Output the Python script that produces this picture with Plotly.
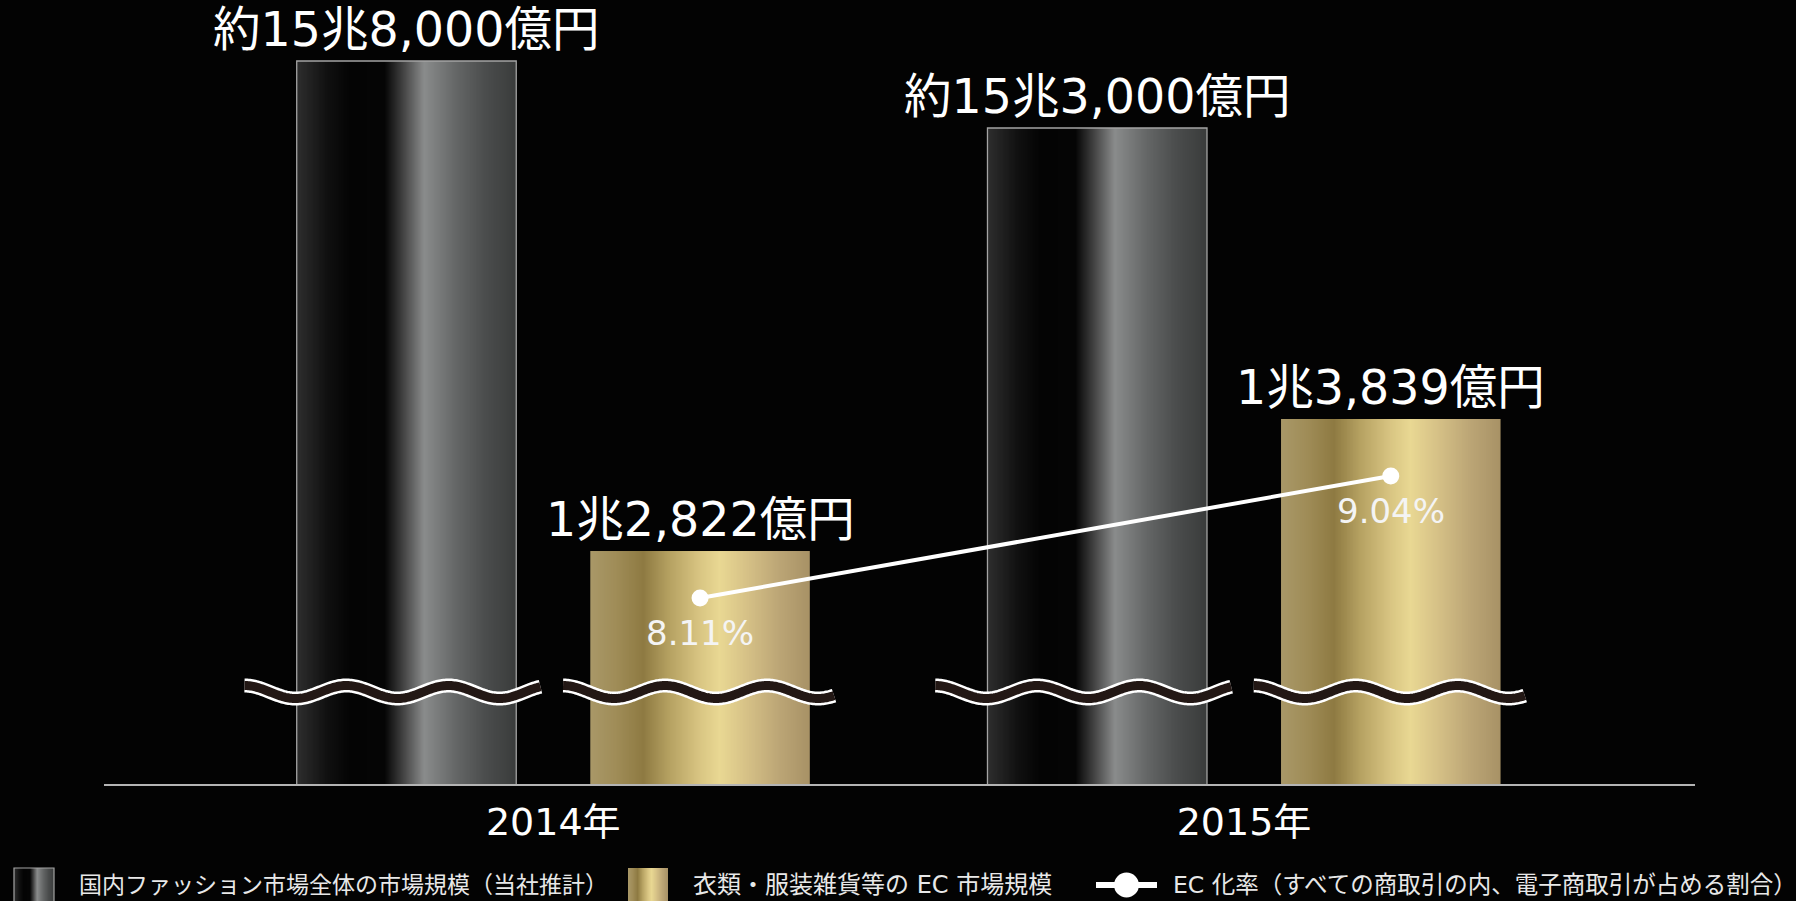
import base64
import struct
import zlib

import numpy as np
import plotly.graph_objects as go

# ---- data -------------------------------------------------------------
years = ["2014年", "2015年"]
market_total = [158000, 153000]   # 国内ファッション市場全体（億円, 当社推計）
ec_market = [12822, 13839]        # 衣類・服装雑貨等の EC 市場（億円）
ec_rate = [8.11, 9.04]            # EC 化率（%）

legend_names = [
    "国内ファッション市場全体の市場規模（当社推計）",
    "衣類・服装雑貨等の EC 市場規模",
    "EC 化率（すべての商取引の内、電子商取引が占める割合）",
]


def oku_label(v, prefix=""):
    cho, oku = divmod(v, 10000)
    return f"{prefix}{cho}兆{oku:,}億円"


# ---- geometry ---------------------------------------------------------
W, H = 1796, 901
ML, MR, MT, MB = 104, 101, 0, 117
PLOT_W = W - ML - MR
PLOT_H = H - MT - MB

X_RANGE = [-0.6504, 1.6529]
PX_PER_X = PLOT_W / (X_RANGE[1] - X_RANGE[0])
BAR_W = 0.3178
SHIFT = 0.2125          # distance of each bar centre from its year centre

# broken axes: each series starts from its own baseline value
TOTAL_RANGE = [104045, 162552]
EC_RANGE = [11027, 17067]
RATE_RANGE = [6.692, 12.669]
PIX_RANGE = [0, PLOT_H]   # pixel units above the baseline (break marks)

FONT = "DejaVu Sans, Noto Sans CJK JP"
BG = "#030303"


def hex_rgb(h):
    h = h.lstrip("#")
    return [int(h[i:i + 2], 16) for i in (0, 2, 4)]


def gradient_png(stops, n=256):
    pos = np.linspace(0, 1, n)
    sp = [s[0] for s in stops]
    cols = np.array([hex_rgb(s[1]) for s in stops], dtype=float)
    rgb = np.stack([np.interp(pos, sp, cols[:, k]) for k in range(3)], axis=1)
    row = b"\x00" + rgb.round().astype(np.uint8).tobytes()
    raw = row * 2

    def chunk(tag, data):
        return (struct.pack(">I", len(data)) + tag + data
                + struct.pack(">I", zlib.crc32(tag + data) & 0xFFFFFFFF))

    png = (b"\x89PNG\r\n\x1a\n"
           + chunk(b"IHDR", struct.pack(">IIBBBBB", n, 2, 8, 2, 0, 0, 0))
           + chunk(b"IDAT", zlib.compress(raw))
           + chunk(b"IEND", b""))
    return "data:image/png;base64," + base64.b64encode(png).decode()


GRAY_STOPS = [(0, "#2e2e2e"), (0.14, "#101010"), (0.24, "#040404"),
              (0.40, "#050505"), (0.47, "#383838"), (0.58, "#8a8c8c"),
              (0.72, "#666868"), (0.86, "#4b4d4d"), (1, "#3a3c3b")]
GOLD_STOPS = [(0, "#a99868"), (0.12, "#9f8c57"), (0.24, "#8e7a42"),
              (0.36, "#b6a262"), (0.50, "#d9c683"), (0.59, "#e9d893"),
              (0.72, "#d5c086"), (0.86, "#bca676"), (1, "#a89266")]
GRAY_IMG = gradient_png(GRAY_STOPS)
GOLD_IMG = gradient_png(GOLD_STOPS)

fig = go.Figure()

# ---- bars (fill comes from the gradient images underneath) ------------
# each series sits on its own stacked subplot sharing the same x range
fig.add_trace(go.Bar(
    x=[0, 1], y=market_total, xaxis="x", yaxis="y", width=BAR_W,
    offset=-SHIFT - BAR_W / 2,
    marker=dict(color="rgba(0,0,0,0)", line=dict(color="#a4a4a4", width=1.3)),
    name=legend_names[0], showlegend=False, hoverinfo="skip",
))
fig.add_trace(go.Bar(
    x=[0, 1], y=ec_market, xaxis="x2", yaxis="y2", width=BAR_W,
    offset=SHIFT - BAR_W / 2,
    marker=dict(color="rgba(0,0,0,0)", line=dict(width=0)),
    name=legend_names[1], showlegend=False, hoverinfo="skip",
))

images = []
for i in range(len(years)):
    images.append(dict(
        source=GRAY_IMG, xref="x", yref="y",
        x=i - SHIFT - BAR_W / 2, y=market_total[i],
        sizex=BAR_W, sizey=market_total[i] - TOTAL_RANGE[0],
        xanchor="left", yanchor="top", sizing="stretch", layer="below"))
    images.append(dict(
        source=GOLD_IMG, xref="x2", yref="y2",
        x=i + SHIFT - BAR_W / 2, y=ec_market[i],
        sizex=BAR_W, sizey=ec_market[i] - EC_RANGE[0],
        xanchor="left", yanchor="top", sizing="stretch", layer="below"))

# ---- EC ratio line ----------------------------------------------------
fig.add_trace(go.Scatter(
    x=[i + SHIFT for i in range(len(years))], y=ec_rate,
    xaxis="x3", yaxis="y3", mode="lines+markers",
    line=dict(color="#ffffff", width=4),
    marker=dict(color="#ffffff", size=17),
    name=legend_names[2], showlegend=False, hoverinfo="skip",
    cliponaxis=False,
))

# ---- wavy axis-break marks across every bar ---------------------------
WAVE_Y = 92          # px above baseline
WAVE_AMP = 6.5
WAVE_PERIOD = 102    # px
wave_spans = {"total": (-162, 134), "ec": (-137, 134)}
for i in range(len(years)):
    for centre, key in ((i - SHIFT, "total"), (i + SHIFT, "ec")):
        a, b = wave_spans[key]
        px = np.linspace(a, b, 240)
        wx = centre + px / PX_PER_X
        wy = WAVE_Y + WAVE_AMP * np.cos(2 * np.pi * (px - a) / WAVE_PERIOD)
        for color, lw in (("#ffffff", 14), ("#231815", 9)):
            fig.add_trace(go.Scatter(
                x=wx, y=wy, xaxis="x4", yaxis="y4", mode="lines",
                line=dict(color=color, width=lw, simplify=False),
                showlegend=False, hoverinfo="skip", cliponaxis=False))

# ---- value labels -----------------------------------------------------
annotations = []
for i in range(len(years)):
    annotations.append(dict(
        x=i - SHIFT, y=market_total[i], xref="x", yref="y",
        text=oku_label(market_total[i], "約"), showarrow=False,
        xanchor="center", yanchor="bottom", yshift=2,
        font=dict(family=FONT, size=47.5, color="#ffffff")))
    annotations.append(dict(
        x=i + SHIFT, y=ec_market[i], xref="x2", yref="y2",
        text=oku_label(ec_market[i]), showarrow=False,
        xanchor="center", yanchor="bottom", yshift=2,
        font=dict(family=FONT, size=47.5, color="#ffffff")))
    annotations.append(dict(
        x=i + SHIFT, y=ec_rate[i], xref="x3", yref="y3",
        text=f"{ec_rate[i]:.2f}%", showarrow=False,
        xanchor="center", yanchor="top", yshift=-13,
        font=dict(family=FONT, size=34, color="#f4f4f4")))


# ---- legend (drawn in paper space below the axis) ---------------------
def px_x(p):
    return (p - ML) / PLOT_W


def px_y(p):
    return (MT + PLOT_H - p) / PLOT_H


LEG_Y = 885
shapes = []
images.append(dict(source=GRAY_IMG, xref="paper", yref="paper",
                   x=px_x(14), y=px_y(868), sizex=40 / PLOT_W, sizey=40 / PLOT_H,
                   xanchor="left", yanchor="top", sizing="stretch", layer="above"))
shapes.append(dict(type="rect", xref="paper", yref="paper",
                   x0=px_x(14), x1=px_x(54), y0=px_y(868), y1=px_y(908),
                   line=dict(color="#a4a4a4", width=1.2)))
images.append(dict(source=GOLD_IMG, xref="paper", yref="paper",
                   x=px_x(628), y=px_y(868), sizex=40 / PLOT_W, sizey=40 / PLOT_H,
                   xanchor="left", yanchor="top", sizing="stretch", layer="above"))
shapes.append(dict(type="line", xref="paper", yref="paper",
                   x0=px_x(1096), x1=px_x(1157), y0=px_y(LEG_Y), y1=px_y(LEG_Y),
                   line=dict(color="#ffffff", width=6)))
shapes.append(dict(type="circle", xref="paper", yref="paper",
                   x0=px_x(1114), x1=px_x(1139), y0=px_y(LEG_Y + 12.5), y1=px_y(LEG_Y - 12.5),
                   fillcolor="#ffffff", line=dict(width=0)))
for name, left, size in zip(legend_names, (77, 691, 1171), (23, 24, 23.5)):
    annotations.append(dict(
        x=px_x(left), y=px_y(LEG_Y), xref="paper", yref="paper",
        text=name, showarrow=False, xanchor="left", yanchor="middle",
        font=dict(family=FONT, size=size, color="#e8e8e8")))

hidden = dict(visible=False, fixedrange=True)
hidden_x = dict(range=X_RANGE, **hidden)
fig.update_layout(
    width=W, height=H,
    margin=dict(l=ML, r=MR, t=MT, b=MB),
    paper_bgcolor=BG, plot_bgcolor="rgba(0,0,0,0)",
    barmode="overlay",
    showlegend=False,
    xaxis=dict(range=X_RANGE, tickvals=[0, 1], ticktext=years,
               showgrid=False, zeroline=False, showline=True,
               linecolor="#b4b4b4", linewidth=2, ticks="",
               ticklabelstandoff=3, fixedrange=True,
               tickfont=dict(family=FONT, size=38, color="#ffffff")),
    xaxis2=dict(anchor="y2", **hidden_x),
    xaxis3=dict(anchor="y3", **hidden_x),
    xaxis4=dict(anchor="y4", **hidden_x),
    yaxis=dict(range=TOTAL_RANGE, **hidden),
    yaxis2=dict(range=EC_RANGE, anchor="x2", **hidden),
    yaxis3=dict(range=RATE_RANGE, anchor="x3", **hidden),
    yaxis4=dict(range=PIX_RANGE, anchor="x4", **hidden),
    images=images,
    shapes=shapes,
    annotations=annotations,
)

fig.write_html("out.html")
